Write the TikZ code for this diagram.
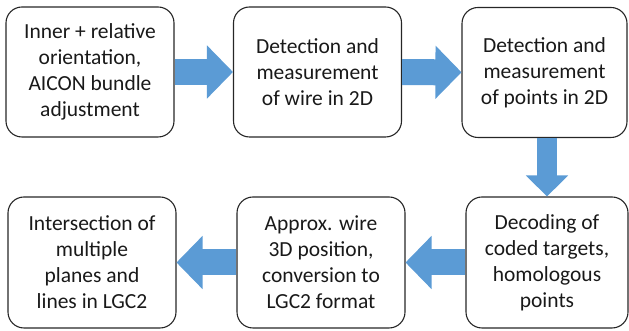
\documentclass[tikz,border=0pt]{standalone}
\usepackage{fontspec}
\setmainfont{Carlito}
\usetikzlibrary{arrows.meta}
\definecolor{flowblue}{HTML}{5B9BD5}
\begin{document}
\begin{tikzpicture}[x=1pt,y=1pt,
	every node/.style={draw=black!85,line width=1.1pt,rounded corners=16pt,align=center,
		minimum width=168pt,minimum height=130pt,font=\fontsize{21.5}{26}\selectfont,text=black!90},
	flow/.style={draw=flowblue,line width=26pt,
		-{Triangle[width=53pt,length=26pt,line width=1.5pt,fill=flowblue]}},
	flowdown/.style={draw=flowblue,line width=20pt,
		-{Triangle[width=42pt,length=21pt,line width=1.5pt,fill=flowblue]}}]
	\useasboundingbox (0,0) rectangle (629,331);

	%top row
	\node (b1) at (90,259) {Inner + relative\\orientation,\\AICON bundle\\adjustment};
	\node (b2) at (317.5,259) {Detection and\\measurement\\of wire in 2D};
	\node[minimum width=165pt] (b3) at (544.5,258.5) {Detection and\\measurement\\of points in 2D};

	%bottom row
	\node[minimum width=162pt,minimum height=131pt] (b4) at (547,68.5) {Decoding of\\coded targets,\\homologous\\points};
	\node[minimum height=131pt] (b5) at (321,68.5) {Approx. wire\\3D position,\\conversion to\\LGC2 format};
	\node[minimum height=131pt] (b6) at (92,68.5) {Intersection of\\multiple\\planes and\\lines in LGC2};

	%block arrows
	\draw[flow] (b1) -- (b2);
	\draw[flow] (b2) -- (b3);
	\draw[flowdown] (b3.south -| b4.north) -- (b4.north);
	\draw[flow] (b4) -- (b5);
	\draw[flow] (b5) -- (b6);
\end{tikzpicture}
\end{document}
